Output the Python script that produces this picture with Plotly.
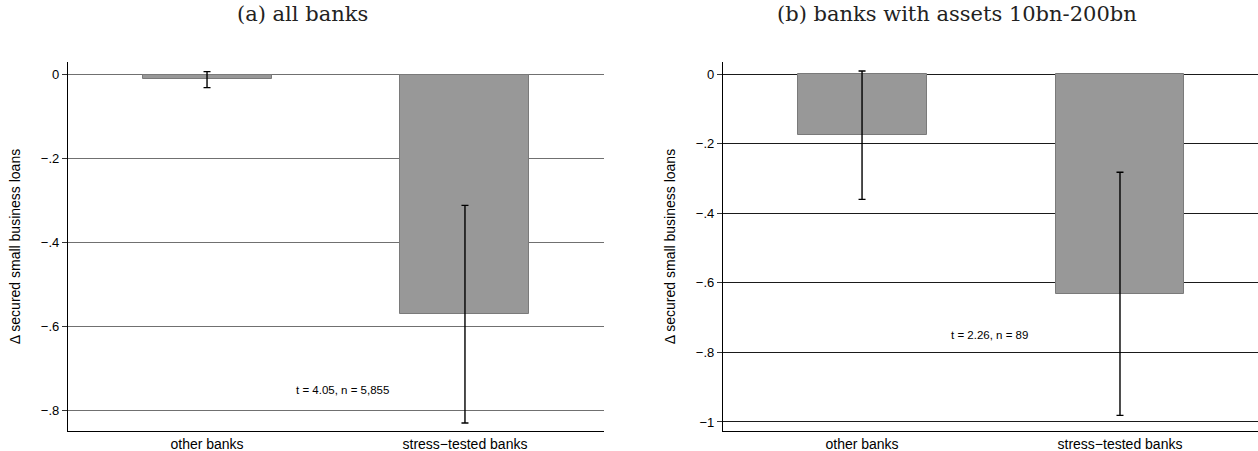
import plotly.graph_objects as go

# Group means and 95% confidence bounds
categories = ["other banks", "stress\u2212tested banks"]

all_mean = [-0.010, -0.571]
all_lo = [-0.031, -0.831]
all_hi = [0.007, -0.312]
all_note = "t = 4.05, n = 5,855"

mid_mean = [-0.1755, -0.633]
mid_lo = [-0.360, -0.981]
mid_hi = [0.009, -0.282]
mid_note = "t = 2.26, n = 89"

titles = ["(a) all banks", "(b) banks with assets 10bn-200bn"]
ytitle = "\u0394 secured small business loans"

a_ticks = [0, -0.2, -0.4, -0.6, -0.8]
a_ticktext = ["0", "\u2212.2", "\u2212.4", "\u2212.6", "\u2212.8"]
b_ticks = [0, -0.2, -0.4, -0.6, -0.8, -1.0]
b_ticktext = ["0", "\u2212.2", "\u2212.4", "\u2212.6", "\u2212.8", "\u22121"]

W, H = 1258, 451
SANS = "Liberation Sans, Arial, sans-serif"
SERIF = "DejaVu Serif, Liberation Serif, serif"

fig = go.Figure()
xpos = [0, 1]


def add_panel(mean, lo, hi, xa, ya):
    fig.add_trace(go.Bar(
        x=xpos, y=mean, width=0.5,
        marker=dict(color="#989898", line=dict(color="#7a7a7a", width=1)),
        error_y=dict(type="data", symmetric=False,
                     array=[h - m for h, m in zip(hi, mean)],
                     arrayminus=[m - l for m, l in zip(mean, lo)],
                     color="black", thickness=1.4, width=3.5),
        xaxis=xa, yaxis=ya, showlegend=False,
    ))


add_panel(all_mean, all_lo, all_hi, "x", "y")
add_panel(mid_mean, mid_lo, mid_hi, "x2", "y2")

ybot = (H - 431) / H
ytop = (H - 62) / H

xcommon = dict(tickvals=xpos, ticktext=categories, showgrid=False, zeroline=False,
               showline=True, linecolor="black", linewidth=1.3, ticks="",
               tickfont=dict(family=SANS, size=14, color="black"))
ycommon = dict(showgrid=True, gridwidth=1.4, zeroline=False, showline=True,
               linecolor="black", linewidth=1.3, ticks="outside", ticklen=5,
               tickcolor="#333", tickwidth=1,
               tickfont=dict(family=SANS, size=13, color="black"),
               title=dict(text=ytitle, font=dict(family=SANS, size=14, color="black"),
                          standoff=16))

title_font = dict(family=SERIF, size=21, color="#222")
note_font = dict(family=SANS, size=11.5, color="black")

fig.update_layout(
    width=W, height=H,
    margin=dict(l=0, r=0, t=0, b=0),
    paper_bgcolor="white", plot_bgcolor="white",
    bargap=0,
    xaxis=dict(domain=[68 / W, 604 / W], range=[-0.539, 1.539], anchor="y", **xcommon),
    yaxis=dict(domain=[ybot, ytop], range=[-0.85, 0.03], anchor="x",
               tickvals=a_ticks, ticktext=a_ticktext, gridcolor="#707070", **ycommon),
    xaxis2=dict(domain=[723 / W, 1.0], range=[-0.539, 1.535], anchor="y2", **xcommon),
    yaxis2=dict(domain=[ybot, ytop], range=[-1.026, 0.035], anchor="x2",
                tickvals=b_ticks, ticktext=b_ticktext, gridcolor="#1a1a1a", **ycommon),
    annotations=[
        dict(text=titles[0], x=302 / W, y=1 - 14 / H, xref="paper", yref="paper",
             xanchor="center", yanchor="middle", showarrow=False, font=title_font),
        dict(text=titles[1], x=957 / W, y=1 - 14 / H, xref="paper", yref="paper",
             xanchor="center", yanchor="middle", showarrow=False, font=title_font),
        dict(text=all_note, x=0.527, y=-0.752, xref="x", yref="y", showarrow=False,
             xanchor="center", font=note_font),
        dict(text=mid_note, x=0.496, y=-0.751, xref="x2", yref="y2", showarrow=False,
             xanchor="center", font=note_font),
    ],
)

fig.write_html("out.html")
